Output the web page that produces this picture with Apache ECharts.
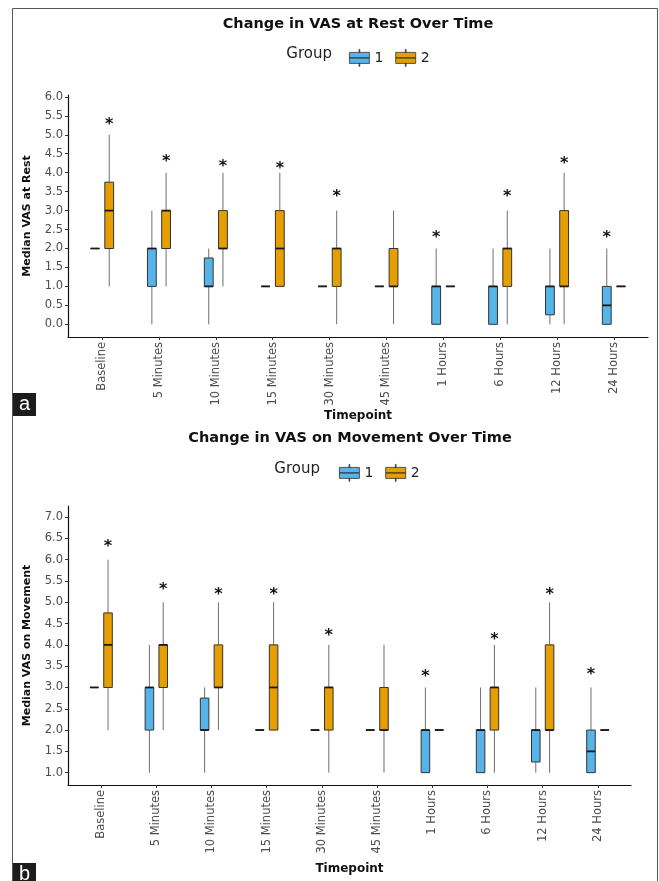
<!DOCTYPE html>
<html>
<head>
<meta charset="utf-8">
<script src="https://cdn.jsdelivr.net/npm/echarts@6/dist/echarts.min.js"></script>
<style>
html,body{margin:0;padding:0;background:#fff;}
#chart{width:659px;height:881px;}
</style>
</head>
<body>
<div id="chart"></div>
<script>
// ---- Data ----
const categories = ['Baseline', '5 Minutes', '10 Minutes', '15 Minutes', '30 Minutes', '45 Minutes', '1 Hours', '6 Hours', '12 Hours', '24 Hours'];
const yTicksRest = [0, 0.5, 1, 1.5, 2, 2.5, 3, 3.5, 4, 4.5, 5, 5.5, 6];
const yTicksMove = [1, 1.5, 2, 2.5, 3, 3.5, 4, 4.5, 5, 5.5, 6, 6.5, 7];

// [min, Q1, median, Q3, max] per timepoint
const restGroup1 = [
  [2, 2, 2, 2, 2], [0, 1, 2, 2, 3], [0, 1, 1, 1.75, 2], [1, 1, 1, 1, 1], [1, 1, 1, 1, 1],
  [1, 1, 1, 1, 1], [0, 0, 1, 1, 2], [0, 0, 1, 1, 2], [0, 0.25, 1, 1, 2], [0, 0, 0.5, 1, 2]
];
const restGroup2 = [
  [1, 2, 3, 3.75, 5], [1, 2, 3, 3, 4], [1, 2, 2, 3, 4], [1, 1, 2, 3, 4], [0, 1, 2, 2, 3],
  [0, 1, 1, 2, 3], [1, 1, 1, 1, 1], [0, 1, 2, 2, 3], [0, 1, 1, 3, 4], [1, 1, 1, 1, 1]
];
const moveGroup1 = [
  [3, 3, 3, 3, 3], [1, 2, 3, 3, 4], [1, 2, 2, 2.75, 3], [2, 2, 2, 2, 2], [2, 2, 2, 2, 2],
  [2, 2, 2, 2, 2], [1, 1, 2, 2, 3], [1, 1, 2, 2, 3], [1, 1.25, 2, 2, 3], [1, 1, 1.5, 2, 3]
];
const moveGroup2 = [
  [2, 3, 4, 4.75, 6], [2, 3, 4, 4, 5], [2, 3, 3, 4, 5], [2, 2, 3, 4, 5], [1, 2, 3, 3, 4],
  [1, 2, 2, 3, 4], [2, 2, 2, 2, 2], [1, 2, 3, 3, 4], [1, 2, 2, 4, 5], [2, 2, 2, 2, 2]
];
// significance markers: [timepoint index, group, y value]
const restStars = [[0, 2, 5.37], [1, 2, 4.38], [2, 2, 4.27], [3, 2, 4.22], [4, 2, 3.47], [6, 1, 2.38], [7, 2, 3.46], [8, 2, 4.34], [9, 1, 2.38]];
const moveStars = [[0, 2, 6.385], [1, 2, 5.38], [2, 2, 5.27], [3, 2, 5.27], [4, 2, 4.31], [6, 1, 3.35], [7, 2, 4.22], [8, 2, 5.27], [9, 1, 3.39]];

// ---- Styling ----
const BLUE = '#56B4E9', ORANGE = '#E69F00';
const FONT = 'DejaVu Sans';
const DODGE = 0.125, BOXW = 0.155;

function boxRenderer(off) {
  return function (params, api) {
    const i = api.value(0);
    const v = [api.value(1), api.value(2), api.value(3), api.value(4), api.value(5)];
    const band = api.size([1, 0])[0];
    const cx = api.coord([i, v[0]])[0] + off * band;
    const y = v.map(val => api.coord([i, val])[1]);
    const w = BOXW * band;
    const color = api.visual('color');
    return {
      type: 'group',
      children: [
        { type: 'line', shape: { x1: cx, y1: y[4], x2: cx, y2: y[3] }, style: { stroke: '#6e6e6e', lineWidth: 1 } },
        { type: 'line', shape: { x1: cx, y1: y[1], x2: cx, y2: y[0] }, style: { stroke: '#6e6e6e', lineWidth: 1 } },
        { type: 'rect', shape: { x: cx - w / 2, y: y[3], width: w, height: y[1] - y[3] }, style: { fill: color, stroke: '#333', lineWidth: 1 } },
        { type: 'line', shape: { x1: cx - w / 2, y1: y[2], x2: cx + w / 2, y2: y[2] }, style: { stroke: '#1a1a1a', lineWidth: 1.8 } }
      ]
    };
  };
}
function starRenderer(params, api) {
  const i = api.value(0), g = api.value(1), val = api.value(2);
  const band = api.size([1, 0])[0];
  const p = api.coord([i, val]);
  return {
    type: 'text',
    x: p[0] + (g === 1 ? -DODGE : DODGE) * band,
    y: p[1] + 4,
    style: { text: '*', font: 'bold 16px ' + FONT, fill: '#111', align: 'center', verticalAlign: 'middle' }
  };
}
function withIndex(arr) { return arr.map((d, i) => [i].concat(d)); }

const legendIcon = 'path://M0,3H20V8.5H0Z M0,8.5H20V14H0Z M9.6,0H10.4V3H9.6Z M9.6,14H10.4V17H9.6Z';

function xAxisFor(gridIndex, nameGap) {
  return {
    type: 'value', gridIndex: gridIndex, min: -0.6, max: 9.6,
    name: 'Timepoint', nameLocation: 'middle', nameGap: nameGap,
    nameTextStyle: { fontFamily: FONT, fontWeight: 'bold', fontSize: 12, color: '#111' },
    splitLine: { show: false },
    axisLine: { show: true, onZero: false, lineStyle: { color: '#111', width: 1.2 } },
    axisTick: { show: true, length: 3, customValues: categories.map((c, i) => i), lineStyle: { color: '#333' } },
    axisLabel: {
      customValues: categories.map((c, i) => i), rotate: 90, margin: 5,
      formatter: v => categories[Math.round(v)], fontFamily: FONT, fontSize: 11.5, color: '#4d4d4d'
    }
  };
}
function yAxisFor(gridIndex, min, max, ticks, name) {
  return {
    type: 'value', gridIndex: gridIndex, min: min, max: max,
    name: name, nameLocation: 'middle', nameGap: 35, nameRotate: 90,
    nameTextStyle: { fontFamily: FONT, fontWeight: 'bold', fontSize: 11, color: '#111' },
    splitLine: { show: false },
    axisLine: { show: true, onZero: false, lineStyle: { color: '#111', width: 1.2 } },
    axisTick: { show: true, length: 3, customValues: ticks, lineStyle: { color: '#333' } },
    axisLabel: { customValues: ticks, margin: 5, formatter: v => v.toFixed(1), fontFamily: FONT, fontSize: 11.5, color: '#4d4d4d' }
  };
}

const chart = echarts.init(document.getElementById('chart'), null, { renderer: 'canvas' });
chart.setOption({
  animation: false,
  backgroundColor: '#fff',
  grid: [
    { left: 68, top: 95, width: 580, height: 242 },
    { left: 68, top: 506, width: 563, height: 279 }
  ],
  xAxis: [xAxisFor(0, 66), xAxisFor(1, 78)],
  yAxis: [
    yAxisFor(0, -0.335, 6.05, yTicksRest, 'Median VAS at Rest'),
    yAxisFor(1, 0.71, 7.26, yTicksMove, 'Median VAS on Movement')
  ],
  legend: [
    {
      left: 344, top: 44, itemWidth: 20, itemHeight: 17, itemGap: 12, icon: legendIcon,
      itemStyle: { borderColor: '#333', borderWidth: 0.8 },
      textStyle: { fontFamily: FONT, fontSize: 14, color: '#222' },
      data: ['1', '2'], selectedMode: false
    },
    {
      left: 334, top: 459, itemWidth: 20, itemHeight: 17, itemGap: 12, icon: legendIcon,
      itemStyle: { borderColor: '#333', borderWidth: 0.8 },
      textStyle: { fontFamily: FONT, fontSize: 14, color: '#222' },
      data: ['1', '2'], selectedMode: false
    }
  ],
  graphic: [
    { type: 'rect', shape: { x: 12.5, y: 8.5, width: 645, height: 900 }, style: { fill: 'none', stroke: '#555', lineWidth: 1 }, silent: true },
    { type: 'text', x: 358, y: 24, style: { text: 'Change in VAS at Rest Over Time', font: 'bold 14.5px ' + FONT, fill: '#111', align: 'center', verticalAlign: 'middle' } },
    { type: 'text', x: 332, y: 54, style: { text: 'Group', font: '15px ' + FONT, fill: '#222', align: 'right', verticalAlign: 'middle' } },
    { type: 'text', x: 350, y: 438, style: { text: 'Change in VAS on Movement Over Time', font: 'bold 14.5px ' + FONT, fill: '#111', align: 'center', verticalAlign: 'middle' } },
    { type: 'text', x: 320, y: 469, style: { text: 'Group', font: '15px ' + FONT, fill: '#222', align: 'right', verticalAlign: 'middle' } },
    { type: 'rect', shape: { x: 13, y: 393, width: 23, height: 23 }, style: { fill: '#1c1c1c' } },
    { type: 'text', x: 24.5, y: 404, style: { text: 'a', font: '20px Liberation Sans', fill: '#fff', align: 'center', verticalAlign: 'middle' } },
    { type: 'rect', shape: { x: 13, y: 863, width: 23, height: 23 }, style: { fill: '#1c1c1c' } },
    { type: 'text', x: 24.5, y: 874, style: { text: 'b', font: '20px Liberation Sans', fill: '#fff', align: 'center', verticalAlign: 'middle' } }
  ],
  series: [
    { name: '1', type: 'custom', xAxisIndex: 0, yAxisIndex: 0, itemStyle: { color: BLUE }, renderItem: boxRenderer(-DODGE), data: withIndex(restGroup1), encode: { x: 0, y: [1, 2, 3, 4, 5] } },
    { name: '2', type: 'custom', xAxisIndex: 0, yAxisIndex: 0, itemStyle: { color: ORANGE }, renderItem: boxRenderer(DODGE), data: withIndex(restGroup2), encode: { x: 0, y: [1, 2, 3, 4, 5] } },
    { name: 'sigRest', type: 'custom', xAxisIndex: 0, yAxisIndex: 0, renderItem: starRenderer, data: restStars, encode: { x: 0, y: 2 } },
    { name: '1', type: 'custom', xAxisIndex: 1, yAxisIndex: 1, itemStyle: { color: BLUE }, renderItem: boxRenderer(-DODGE), data: withIndex(moveGroup1), encode: { x: 0, y: [1, 2, 3, 4, 5] } },
    { name: '2', type: 'custom', xAxisIndex: 1, yAxisIndex: 1, itemStyle: { color: ORANGE }, renderItem: boxRenderer(DODGE), data: withIndex(moveGroup2), encode: { x: 0, y: [1, 2, 3, 4, 5] } },
    { name: 'sigMove', type: 'custom', xAxisIndex: 1, yAxisIndex: 1, renderItem: starRenderer, data: moveStars, encode: { x: 0, y: 2 } }
  ]
});
</script>
</body>
</html>
